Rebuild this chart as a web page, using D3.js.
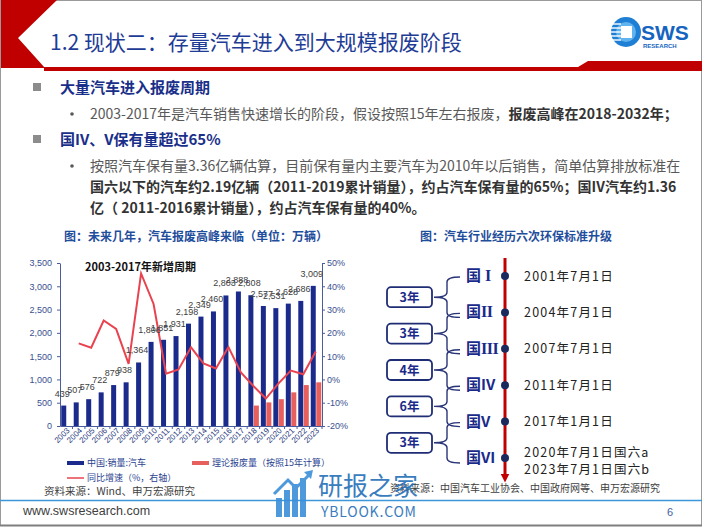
<!DOCTYPE html>
<html>
<head>
<meta charset="utf-8">
<script src="https://cdn.jsdelivr.net/npm/d3@7"></script>
<style>
html, body { margin: 0; padding: 0; background: #fff; }
svg { display: block; font-family: "Noto Sans CJK SC", "Noto Sans", sans-serif; }
</style>
</head>
<body>
<svg id="slide" width="702" height="527"></svg>
<script>
"use strict";

// chart data (万辆)
var years = ["2003","2004","2005","2006","2007","2008","2009","2010","2011","2012","2013",
             "2014","2015","2016","2017","2018","2019","2020","2021","2022","2023"];
var sales = [439, 507, 576, 722, 879, 938, 1364, 1806, 1851, 1931, 2198,
             2349, 2460, 2803, 2888, 2808, 2577, 2531, 2628, 2686, 3009];
var scrapYears = ["2018","2019","2020","2021","2022","2023"];
var scrap = [439, 507, 576, 722, 879, 938];
// yoy growth, %, right axis (no value for 2003)
var growth = [null, 15.5, 13.6, 25.3, 21.7, 6.7, 45.5, 32.4, 2.5, 4.3, 13.8,
              6.9, 4.7, 13.9, 3.0, -2.8, -8.2, -1.8, 3.8, 2.2, 12.0];
var leftTicks = [0, 500, 1000, 1500, 2000, 2500, 3000, 3500];
var rightTicks = [-20, -10, 0, 10, 20, 30, 40, 50];

// emission standards timeline: [prefix, numeral, serif numeral?]
var standards = [["国", "I", true], ["国", "II", true], ["国", "III", true],
                 ["国", "IV", false], ["国", "V", false], ["国", "VI", false]];
var startDates = [["2001年7月1日"], ["2004年7月1日"], ["2007年7月1日"], ["2011年7月1日"],
                  ["2017年1月1日"], ["2020年7月1日国六a", "2023年7月1日国六b"]];
var gaps = ["3年", "3年", "4年", "6年", "3年"];

var NAVY = "#1b2b8c";
var SCRAP_RED = "#e8605e";
var LINE_RED = "#e8434f";
var AXIS_BLUE = "#4a5c9c";
var TITLE_BLUE = "#1e3c96";

var svg = d3.select("#slide");

// slide frame
svg.append("rect").attr("x", 0.5).attr("y", 0.5).attr("width", 701).attr("height", 525)
   .attr("fill", "#fff").attr("stroke", "#9a9a9a");

/* ---------- header ---------- */
svg.append("polygon").attr("points", "1,0 57,0 18,38 45,68 1,68").attr("fill", "#c00000");
svg.append("polygon").attr("points", "44,67 578,67 588,61 702,61 702,71 44,71").attr("fill", "#c00000");
svg.append("text").attr("x", 50).attr("y", 50).attr("font-size", 21)
   .attr("fill", TITLE_BLUE).text("1.2 现状二：存量汽车进入到大规模报废阶段");

// SWS logo
var logo = svg.append("g");
logo.append("circle").attr("cx", 626).attr("cy", 32).attr("r", 15).attr("fill", "#1e7fd4");
logo.append("circle").attr("cx", 626).attr("cy", 32).attr("r", 10).attr("fill", "#5fb3ee");
[24, 28, 32, 36, 40].forEach(function(y) {
  logo.append("line").attr("x1", 611).attr("x2", 621).attr("y1", y).attr("y2", y)
      .attr("stroke", "#fff").attr("stroke-width", 1.4);
});
logo.append("rect").attr("x", 621).attr("y", 26).attr("width", 11).attr("height", 12).attr("fill", "#fff");
logo.append("text").attr("x", 641).attr("y", 40).attr("font-size", 21).attr("font-weight", "bold")
    .attr("font-family", "Liberation Sans, Arial, sans-serif").attr("fill", "#1565c0").text("SWS");
logo.append("text").attr("x", 643).attr("y", 47.5).attr("font-size", 6).attr("font-weight", "bold")
    .attr("font-family", "Liberation Sans, Arial, sans-serif").attr("fill", "#1565c0").text("RESEARCH");

/* ---------- bullet text ---------- */
var heads = [{y: 87, text: "大量汽车进入报废周期"}, {y: 139, text: "国IV、V保有量超过65%"}];
heads.forEach(function(h) {
  svg.append("rect").attr("x", 33).attr("y", h.y - 4).attr("width", 8).attr("height", 8).attr("fill", "#8c8c8c");
  svg.append("text").attr("x", 60).attr("y", h.y + 5.5).attr("font-size", 15).attr("font-weight", "bold")
     .attr("fill", "#1a2f8a").text(h.text);
});

var rows = [
  {y: 114, dot: true, parts: [["2003-2017年是汽车销售快速增长的阶段，假设按照15年左右报废，", false], ["报废高峰在2018-2032年；", true]]},
  {y: 166, dot: true, parts: [["按照汽车保有量3.36亿辆估算，目前保有量内主要汽车为2010年以后销售，简单估算排放标准在", false]]},
  {y: 187, dot: false, parts: [["国六以下的汽车约2.19亿辆（2011-2019累计销量），约占汽车保有量的65%；国IV汽车约1.36", true]]},
  {y: 208, dot: false, parts: [["亿（ 2011-2016累计销量），约占汽车保有量的40%。", true]]}
];
rows.forEach(function(r) {
  if (r.dot) {
    svg.append("circle").attr("cx", 72).attr("cy", r.y).attr("r", 1.8).attr("fill", "#595959");
  }
  var t = svg.append("text").attr("x", 90).attr("y", r.y + 5).attr("font-size", 14);
  r.parts.forEach(function(p) {
    t.append("tspan").attr("font-weight", p[1] ? "bold" : "normal")
     .attr("fill", p[1] ? "#333" : "#595959").text(p[0]);
  });
});

/* ---------- left chart ---------- */
svg.append("text").attr("x", 64).attr("y", 241).attr("font-size", 12).attr("font-weight", "bold")
   .attr("fill", "#1f4e9c").text("图：未来几年，汽车报废高峰来临（单位：万辆）");

var x = d3.scaleBand().domain(years).range([60, 322]);
var yL = d3.scaleLinear().domain([0, 3500]).range([426, 263]);
var yR = d3.scaleLinear().domain([-20, 50]).range([426, 263]);
var BAR_W = 5;

var chart = svg.append("g").attr("font-family", "Liberation Sans, Arial, sans-serif");

var axL = chart.append("g").attr("transform", "translate(60,0)")
  .call(d3.axisLeft(yL).tickValues(leftTicks).tickFormat(d3.format(",")).tickSize(3).tickPadding(5).tickSizeOuter(0));
var axR = chart.append("g").attr("transform", "translate(322,0)")
  .call(d3.axisRight(yR).tickValues(rightTicks).tickFormat(function(d) { return d + "%"; }).tickSize(3).tickPadding(2).tickSizeOuter(0));
[axL, axR].forEach(function(a) {
  a.selectAll("path, line").attr("stroke", AXIS_BLUE);
  a.selectAll("text").attr("fill", "#3a4f8f").attr("font-size", 9);
});

// bars
chart.append("g").selectAll("rect").data(sales).enter().append("rect")
  .attr("x", function(d, i) { return x(years[i]) + x.bandwidth() / 2 - BAR_W; })
  .attr("y", function(d) { return yL(d); })
  .attr("width", BAR_W)
  .attr("height", function(d) { return yL(0) - yL(d); })
  .attr("fill", NAVY);

chart.append("g").selectAll("rect").data(scrap).enter().append("rect")
  .attr("x", function(d, i) { return x(scrapYears[i]) + x.bandwidth() / 2 + 0.5; })
  .attr("y", function(d) { return yL(d); })
  .attr("width", BAR_W)
  .attr("height", function(d) { return yL(0) - yL(d); })
  .attr("fill", SCRAP_RED);

// growth line
var line = d3.line()
  .defined(function(d) { return d !== null; })
  .x(function(d, i) { return x(years[i]) + x.bandwidth() / 2; })
  .y(function(d) { return yR(d); });
chart.append("path").datum(growth).attr("d", line)
  .attr("fill", "none").attr("stroke", LINE_RED).attr("stroke-width", 2);

// value labels
chart.append("g").selectAll("text").data(sales).enter().append("text")
  .attr("x", function(d, i) { return x(years[i]) + x.bandwidth() / 2 - 4; })
  .attr("y", function(d) { return yL(d) - 9; })
  .attr("text-anchor", "middle").attr("font-size", 9).attr("fill", "#404040")
  .text(d3.format(","));

// x axis
var axB = chart.append("g").attr("transform", "translate(0,426)")
  .call(d3.axisBottom(x).tickSize(0).tickSizeOuter(0));
axB.select("path").attr("stroke", AXIS_BLUE);
axB.selectAll(".tick line").remove();
axB.selectAll(".tick").append("line")
  .attr("x1", x.bandwidth() / 2).attr("x2", x.bandwidth() / 2).attr("y1", 0).attr("y2", 3)
  .attr("stroke", AXIS_BLUE);
axB.selectAll(".tick text")
  .attr("font-size", 8).attr("fill", "#2a3a80")
  .attr("text-anchor", "end")
  .attr("transform", "translate(2,3) rotate(-45)")
  .attr("dy", "0.35em").attr("y", 0);

// annotation
svg.append("text").attr("x", 85).attr("y", 271).attr("font-size", 11).attr("font-weight", "bold")
   .attr("fill", "#111").text("2003-2017年新增周期");

// legend
var legend = svg.append("g").attr("font-size", 9).attr("fill", "#2a3f8f");
var legendItems = [
  {x: 67, y: 463, w: 4, c: NAVY, label: "中国:销量:汽车"},
  {x: 192, y: 463, w: 4, c: SCRAP_RED, label: "理论报废量（按照15年计算）"},
  {x: 67, y: 478, w: 1.5, c: LINE_RED, label: "同比增速（%，右轴）"}
];
legendItems.forEach(function(l) {
  legend.append("line").attr("x1", l.x).attr("x2", l.x + 17).attr("y1", l.y).attr("y2", l.y)
        .attr("stroke", l.c).attr("stroke-width", l.w);
  legend.append("text").attr("x", l.x + 20).attr("y", l.y + 3.2).text(l.label);
});

svg.append("text").attr("x", 44).attr("y", 495).attr("font-size", 10.5).attr("fill", "#404040")
   .text("资料来源：Wind、申万宏源研究");

/* ---------- right: emission standards ---------- */
svg.append("text").attr("x", 420).attr("y", 241).attr("font-size", 12).attr("font-weight", "bold")
   .attr("fill", "#1f4e9c").text("图：汽车行业经历六次环保标准升级");

var ty = d3.scalePoint().domain(d3.range(standards.length)).range([276, 458]);
var AXIS_X = 505;

svg.append("defs").append("marker").attr("id", "arr").attr("viewBox", "0 0 10 10")
   .attr("refX", 5).attr("refY", 5).attr("markerWidth", 3).attr("markerHeight", 3).attr("orient", "auto")
   .append("path").attr("d", "M0,0 L10,5 L0,10 z").attr("fill", "#c00000");
svg.append("line").attr("x1", AXIS_X).attr("x2", AXIS_X).attr("y1", 258).attr("y2", 478)
   .attr("stroke", "#c00000").attr("stroke-width", 3).attr("marker-end", "url(#arr)");

var tl = svg.append("g");
tl.selectAll("circle").data(standards).enter().append("circle")
  .attr("cx", AXIS_X).attr("cy", function(d, i) { return ty(i); }).attr("r", 4).attr("fill", "#1b2a5e");
var stdText = tl.selectAll("text.std").data(standards).enter().append("text").attr("class", "std")
  .attr("x", 466).attr("y", function(d, i) { return ty(i) + 5; })
  .attr("font-size", 15).attr("font-weight", "bold").attr("fill", "#1a2a8a");
stdText.append("tspan").text(function(d) { return d[0]; });
stdText.append("tspan")
  .attr("dx", function(d) { return d[2] && d[1] === "I" ? 4 : 0; })
  .attr("font-family", function(d) { return d[2] ? "Liberation Serif, serif" : null; })
  .attr("font-size", function(d) { return d[2] ? 16 : 15; })
  .attr("letter-spacing", function(d) { return d[2] ? -0.5 : 0; })
  .text(function(d) { return d[1]; });

startDates.forEach(function(lines, i) {
  var y0 = ty(i);
  lines.forEach(function(s, j) {
    var yy = lines.length > 1 ? y0 - 6 + j * 17 : y0;
    svg.append("text").attr("x", 524).attr("y", yy + 4.5).attr("font-size", 12.5)
       .attr("letter-spacing", 1.2).attr("fill", "#222").text(s);
  });
});

// braces + gap boxes
gaps.forEach(function(g, i) {
  var y0 = ty(i) + 1, y1 = ty(i + 1) + 5;
  var ym = (y0 + y1) / 2, xl = 434, xm = 447, xr = 460, r = 5;
  var d = "M" + xr + "," + y0 + " Q" + xm + "," + y0 + " " + xm + "," + (y0 + r) +
          " L" + xm + "," + (ym - r) + " Q" + xm + "," + ym + " " + xl + "," + ym +
          " Q" + xm + "," + ym + " " + xm + "," + (ym + r) +
          " L" + xm + "," + (y1 - r) + " Q" + xm + "," + y1 + " " + xr + "," + y1;
  svg.append("path").attr("d", d).attr("fill", "none").attr("stroke", "#2a3578").attr("stroke-width", 1.4);
  svg.append("rect").attr("x", 387).attr("y", ym - 10).attr("width", 45).attr("height", 20).attr("rx", 4)
     .attr("fill", "#fff").attr("stroke", "#1f2d75").attr("stroke-width", 1.8);
  svg.append("text").attr("x", 409.5).attr("y", ym + 4.5).attr("text-anchor", "middle")
     .attr("font-size", 12.5).attr("font-weight", "bold").attr("fill", "#1a2a8a").text(g);
});

svg.append("text").attr("x", 390).attr("y", 492).attr("font-size", 10).attr("fill", "#404040")
   .text("资料来源：中国汽车工业协会、中国政府网等、申万宏源研究");

/* ---------- footer ---------- */
svg.append("line").attr("x1", 0).attr("x2", 702).attr("y1", 500.5).attr("y2", 500.5)
   .attr("stroke", "#3d97d8").attr("stroke-width", 1.6);
svg.append("text").attr("x", 23).attr("y", 515).attr("font-size", 12.5)
   .attr("font-family", "Liberation Sans, Arial, sans-serif").attr("fill", "#404040").text("www.swsresearch.com");
svg.append("text").attr("x", 667).attr("y", 516).attr("font-size", 11)
   .attr("font-family", "Liberation Sans, Arial, sans-serif").attr("fill", "#3f5fa0").text("6");
svg.append("line").attr("x1", 0).attr("x2", 702).attr("y1", 525.5).attr("y2", 525.5)
   .attr("stroke", "#7f7f7f").attr("stroke-width", 2);

// watermark
var wm = svg.append("g").attr("opacity", 0.9);
[[276, 498, 19], [284, 490, 27], [292, 484, 33], [300, 478, 39]].forEach(function(b) {
  wm.append("rect").attr("x", b[0]).attr("y", b[1]).attr("width", 6).attr("height", b[2]).attr("fill", "#3a8fd8");
});
wm.append("path").attr("d", "M274,494 L288,480 L296,488 L310,474")
  .attr("fill", "none").attr("stroke", "#3a8fd8").attr("stroke-width", 3);
wm.append("path").attr("d", "M304,472 L313,470 L311,479 z").attr("fill", "#3a8fd8");
wm.append("text").attr("x", 318).attr("y", 495).attr("font-size", 25).attr("fill", "#2570b8").text("研报之家");
wm.append("text").attr("x", 321).attr("y", 517).attr("font-size", 14).attr("letter-spacing", 0.8)
  .attr("fill", "#2570b8").text("YBLOOK.COM");
</script>
</body>
</html>
